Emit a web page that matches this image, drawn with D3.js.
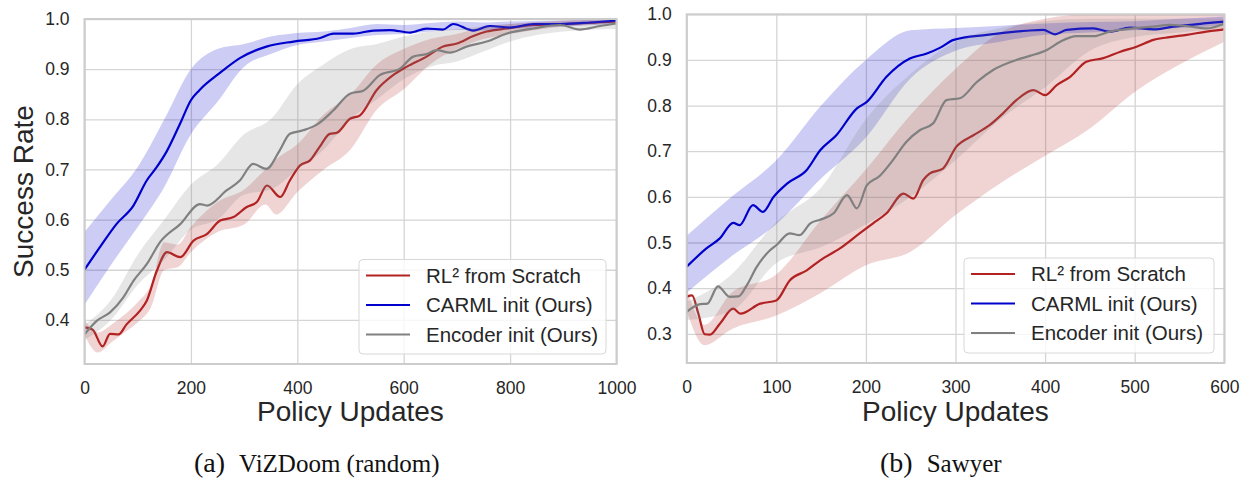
<!DOCTYPE html>
<html lang="en">
	<head>
		<meta charset="utf-8">
		<title>CARML success rate</title>
		<script src="https://d3js.org/d3.v7.min.js"></script>
		<style type="text/css">
			body { margin: 0; background: #fff; }
			text { font-family: "Liberation Sans", Arial, sans-serif; fill: #262626; }
			.cap { font-family: "Liberation Serif", "DejaVu Serif", serif; fill: #111; }
		</style>
	</head>
	<body>
		<script type="text/javascript">
			//Width and height
			var w = 1242;
			var h = 483;

			//Series names and colours
			var seriesNames = ["RL\u00b2 from Scratch", "CARML init (Ours)", "Encoder init (Ours)"];
			var seriesColors = ["#b22222", "#0000cd", "#808080"];

			//(a) ViZDoom (random) - mean curves
			var vizRl2X = [0,15,34,48,64,79,104,117,136,155,180,205,230,255,280,305,324,343,368,386,405,424,442,461,474,499,518,549,580,606,643,674,700,731,756,794,844,906,1000];
			var vizRl2Y = [0.385,0.381,0.347,0.372,0.371,0.391,0.418,0.438,0.498,0.535,0.525,0.558,0.571,0.598,0.605,0.625,0.635,0.668,0.645,0.678,0.708,0.718,0.745,0.771,0.773,0.801,0.808,0.858,0.888,0.905,0.925,0.945,0.951,0.966,0.975,0.981,0.988,0.99,0.995];
			var vizCarmlX = [0,29,60,92,117,136,154,180,200,216,254,292,342,393,443,468,505,543,574,612,643,674,693,731,762,800,844,894,950,1000];
			var vizCarmlY = [0.5,0.545,0.591,0.628,0.678,0.705,0.735,0.792,0.838,0.858,0.892,0.922,0.945,0.955,0.962,0.971,0.971,0.977,0.978,0.973,0.981,0.979,0.99,0.977,0.986,0.983,0.99,0.99,0.993,0.997];
			var vizEncX = [0,23,48,73,92,117,142,180,217,230,267,292,317,342,367,386,411,439,468,499,524,555,593,618,643,662,687,718,756,794,844,894,931,969,1000];
			var vizEncY = [0.371,0.398,0.415,0.445,0.478,0.511,0.555,0.591,0.631,0.628,0.658,0.678,0.711,0.701,0.738,0.771,0.778,0.791,0.818,0.851,0.857,0.888,0.901,0.925,0.93,0.938,0.933,0.945,0.955,0.971,0.981,0.988,0.979,0.986,0.991];

			//(a) ViZDoom - shaded bands
			var vizRl2BandX = [0,25,50,75,100,125,150,175,200,250,300,340,360,400,450,500,550,600,650,700,750,800,900,1000];
			var vizRl2Lo = [0.37,0.335,0.355,0.375,0.395,0.425,0.5,0.505,0.535,0.575,0.59,0.63,0.61,0.655,0.7,0.74,0.82,0.86,0.91,0.94,0.96,0.97,0.985,0.99];
			var vizRl2Hi = [0.4,0.375,0.39,0.41,0.435,0.47,0.555,0.55,0.585,0.635,0.66,0.7,0.72,0.75,0.81,0.85,0.91,0.94,0.96,0.97,0.985,0.99,0.997,1.0];
			var vizCarmlBandX = [0,50,100,150,200,250,300,350,400,450,500,550,600,650,700,750,800,900,1000];
			var vizCarmlLo = [0.43,0.51,0.585,0.665,0.77,0.835,0.905,0.93,0.948,0.955,0.962,0.968,0.97,0.975,0.978,0.977,0.98,0.985,0.99];
			var vizCarmlHi = [0.575,0.64,0.705,0.8,0.9,0.94,0.95,0.965,0.972,0.975,0.982,0.99,0.988,0.992,0.995,0.993,0.995,0.997,0.999];
			var vizEncBandX = [0,50,100,150,200,250,300,350,400,450,500,550,600,650,700,750,800,900,1000];
			var vizEncLo = [0.36,0.4,0.47,0.52,0.58,0.6,0.65,0.66,0.7,0.74,0.8,0.84,0.88,0.905,0.915,0.935,0.955,0.975,0.98];
			var vizEncHi = [0.39,0.44,0.53,0.6,0.67,0.71,0.77,0.8,0.87,0.91,0.94,0.95,0.965,0.975,0.98,0.985,0.99,0.995,0.997];

			//(b) Sawyer - mean curves
			var sawRl2X = [0,6,13,20,26,37,52,60,82,100,115,134,149,171,193,208,223,242,253,264,271,286,301,320,338,353,368,387,400,413,428,446,465,484,502,521,539,558,580,600];
			var sawRl2Y = [0.381,0.384,0.344,0.299,0.298,0.322,0.355,0.344,0.366,0.373,0.417,0.439,0.461,0.487,0.52,0.542,0.564,0.607,0.596,0.637,0.651,0.662,0.71,0.735,0.757,0.783,0.812,0.834,0.823,0.845,0.863,0.896,0.904,0.918,0.929,0.944,0.95,0.955,0.962,0.967];
			var sawCarmlX = [0,22,37,52,59,74,85,97,112,134,149,167,190,201,223,249,268,283,298,335,379,398,411,424,454,472,495,521,543,577,600];
			var sawCarmlY = [0.447,0.487,0.509,0.543,0.538,0.582,0.567,0.6,0.629,0.659,0.702,0.735,0.794,0.808,0.863,0.903,0.914,0.927,0.944,0.955,0.964,0.966,0.956,0.966,0.969,0.962,0.971,0.967,0.973,0.98,0.984];
			var sawEncX = [0,15,23,35,48,58,67,78,93,100,115,126,138,149,164,179,190,201,215,230,245,260,275,290,305,324,342,368,383,402,417,435,454,472,498,521,539,558,580,600];
			var sawEncY = [0.348,0.365,0.366,0.404,0.381,0.382,0.406,0.446,0.483,0.494,0.52,0.516,0.542,0.55,0.564,0.604,0.575,0.625,0.645,0.68,0.72,0.746,0.761,0.812,0.816,0.852,0.878,0.9,0.909,0.922,0.94,0.952,0.952,0.962,0.969,0.973,0.977,0.974,0.969,0.98];

			//(b) Sawyer - shaded bands
			var sawRl2BandX = [0,20,50,100,150,200,250,300,350,400,450,500,550,600];
			var sawRl2Lo = [0.35,0.275,0.31,0.34,0.39,0.45,0.48,0.56,0.63,0.69,0.75,0.83,0.89,0.94];
			var sawRl2Hi = [0.4,0.32,0.39,0.43,0.55,0.66,0.78,0.88,0.96,0.99,1.0,1.0,1.0,1.0];
			var sawCarmlBandX = [0,50,100,150,200,250,300,350,400,450,500,550,600];
			var sawCarmlLo = [0.39,0.47,0.54,0.64,0.73,0.86,0.92,0.94,0.955,0.96,0.965,0.97,0.975];
			var sawCarmlHi = [0.515,0.6,0.68,0.8,0.9,0.965,0.97,0.975,0.98,0.983,0.985,0.99,0.995];
			var sawEncBandX = [0,50,100,150,200,250,300,350,400,450,500,550,600];
			var sawEncLo = [0.33,0.35,0.455,0.49,0.54,0.6,0.68,0.77,0.84,0.92,0.95,0.96,0.97];
			var sawEncHi = [0.37,0.43,0.545,0.62,0.77,0.87,0.94,0.97,0.985,0.99,0.99,0.99,0.99];

			//Axis ticks
			var vizXTicks = [0,200,400,600,800,1000];
			var vizYTicks = [0.4,0.5,0.6,0.7,0.8,0.9,1.0];
			var sawXTicks = [0,100,200,300,400,500,600];
			var sawYTicks = [0.3,0.4,0.5,0.6,0.7,0.8,0.9,1.0];

			//Create SVG element
			var svg = d3.select("body")
						.append("svg")
						.attr("width", w)
						.attr("height", h);

			svg.append("rect").attr("width", w).attr("height", h).attr("fill", "#fff");

			var panels = [
				{
					id: "a", left: 84.5, right: 616.5, top: 19, bottom: 364,
					xDomain: [0, 1000], yDomain: [0.312, 1.0],
					xTicks: vizXTicks, yTicks: vizYTicks, yLabel: true,
					series: [
						{ x: vizRl2X, y: vizRl2Y, bx: vizRl2BandX, lo: vizRl2Lo, hi: vizRl2Hi },
						{ x: vizCarmlX, y: vizCarmlY, bx: vizCarmlBandX, lo: vizCarmlLo, hi: vizCarmlHi },
						{ x: vizEncX, y: vizEncY, bx: vizEncBandX, lo: vizEncLo, hi: vizEncHi }
					],
					legend: { x: 359, y: 259.5, w: 247, h: 94.5 },
					caption: "(a)", captionText: "ViZDoom (random)", capX: 194
				},
				{
					id: "b", left: 686.7, right: 1224.3, top: 14.3, bottom: 363,
					xDomain: [0, 600], yDomain: [0.236, 1.0],
					xTicks: sawXTicks, yTicks: sawYTicks, yLabel: false,
					series: [
						{ x: sawRl2X, y: sawRl2Y, bx: sawRl2BandX, lo: sawRl2Lo, hi: sawRl2Hi },
						{ x: sawCarmlX, y: sawCarmlY, bx: sawCarmlBandX, lo: sawCarmlLo, hi: sawCarmlHi },
						{ x: sawEncX, y: sawEncY, bx: sawEncBandX, lo: sawEncLo, hi: sawEncHi }
					],
					legend: { x: 964, y: 258, w: 250, h: 95 },
					caption: "(b)", captionText: "Sawyer", capX: 880
				}
			];

			panels.forEach(function(p) {
				var x = d3.scaleLinear().domain(p.xDomain).range([p.left, p.right]);
				var y = d3.scaleLinear().domain(p.yDomain).range([p.bottom, p.top]);

				var g = svg.append("g");

				//clip to the plot area
				svg.append("clipPath").attr("id", "clip-" + p.id)
					.append("rect")
					.attr("x", p.left).attr("y", p.top)
					.attr("width", p.right - p.left).attr("height", p.bottom - p.top);

				//grid lines
				g.append("g")
					.attr("transform", "translate(0," + p.bottom + ")")
					.call(d3.axisBottom(x).tickValues(p.xTicks).tickSize(-(p.bottom - p.top)).tickFormat(""))
					.call(function(a) { a.select(".domain").remove(); a.selectAll("line").attr("stroke", "#d5d5d5").attr("stroke-width", 1.3); });
				g.append("g")
					.attr("transform", "translate(" + p.left + ",0)")
					.call(d3.axisLeft(y).tickValues(p.yTicks).tickSize(-(p.right - p.left)).tickFormat(""))
					.call(function(a) { a.select(".domain").remove(); a.selectAll("line").attr("stroke", "#d5d5d5").attr("stroke-width", 1.3); });

				//tick labels
				g.append("g")
					.attr("transform", "translate(0," + p.bottom + ")")
					.call(d3.axisBottom(x).tickValues(p.xTicks).tickSize(0).tickPadding(18).tickFormat(d3.format("d")))
					.call(function(a) { a.select(".domain").remove(); a.selectAll("text").attr("font-size", 17.5).attr("font-family", null).attr("fill", "#262626"); });
				g.append("g")
					.attr("transform", "translate(" + p.left + ",0)")
					.call(d3.axisLeft(y).tickValues(p.yTicks).tickSize(0).tickPadding(15).tickFormat(d3.format(".1f")))
					.call(function(a) { a.select(".domain").remove(); a.selectAll("text").attr("font-size", 17.5).attr("font-family", null).attr("fill", "#262626"); });

				//bands and lines
				var plot = g.append("g").attr("clip-path", "url(#clip-" + p.id + ")");
				p.series.forEach(function(s, i) {
					var band = s.bx.map(function(v, j) { return [v, s.lo[j], s.hi[j]]; });
					var pts = s.x.map(function(v, j) { return [v, s.y[j]]; });
					plot.append("path")
						.datum(band)
						.attr("d", d3.area().curve(d3.curveMonotoneX)
							.x(function(d) { return x(d[0]); })
							.y0(function(d) { return y(d[1]); })
							.y1(function(d) { return y(d[2]); }))
						.attr("fill", seriesColors[i])
						.attr("fill-opacity", 0.2);
					plot.append("path")
						.datum(pts)
						.attr("d", d3.line().curve(d3.curveMonotoneX)
							.x(function(d) { return x(d[0]); })
							.y(function(d) { return y(d[1]); }))
						.attr("fill", "none")
						.attr("stroke", seriesColors[i])
						.attr("stroke-width", 2.2);
				});

				//frame
				g.append("rect")
					.attr("x", p.left).attr("y", p.top)
					.attr("width", p.right - p.left).attr("height", p.bottom - p.top)
					.attr("fill", "none").attr("stroke", "#cccccc").attr("stroke-width", 2);

				//axis titles
				g.append("text")
					.attr("x", (p.left + p.right) / 2).attr("y", 421)
					.attr("text-anchor", "middle").attr("font-size", 28)
					.text("Policy Updates");
				if (p.yLabel) {
					g.append("text")
						.attr("transform", "translate(33," + ((p.top + p.bottom) / 2) + ") rotate(-90)")
						.attr("text-anchor", "middle").attr("font-size", 28)
						.text("Success Rate");
				}

				//legend
				var lg = g.append("g");
				lg.append("rect")
					.attr("x", p.legend.x).attr("y", p.legend.y)
					.attr("width", p.legend.w).attr("height", p.legend.h)
					.attr("rx", 4)
					.attr("fill", "#fff").attr("fill-opacity", 0.8)
					.attr("stroke", "#d8d8d8").attr("stroke-width", 1);
				seriesNames.forEach(function(name, i) {
					var ry = p.legend.y + 16 + i * 29.5;
					lg.append("line")
						.attr("x1", p.legend.x + 7).attr("x2", p.legend.x + 51)
						.attr("y1", ry).attr("y2", ry)
						.attr("stroke", seriesColors[i]).attr("stroke-width", 2.2);
					lg.append("text")
						.attr("x", p.legend.x + 67).attr("y", ry + 7)
						.attr("font-size", 20.5)
						.text(name);
				});

				//caption
				var cap = g.append("text")
					.attr("class", "cap")
					.attr("x", p.capX).attr("y", 472)
					.attr("font-size", 28);
				cap.append("tspan").text(p.caption);
				cap.append("tspan").attr("dx", 14).attr("font-size", 25).text(p.captionText);
			});
		</script>
	</body>
</html>
